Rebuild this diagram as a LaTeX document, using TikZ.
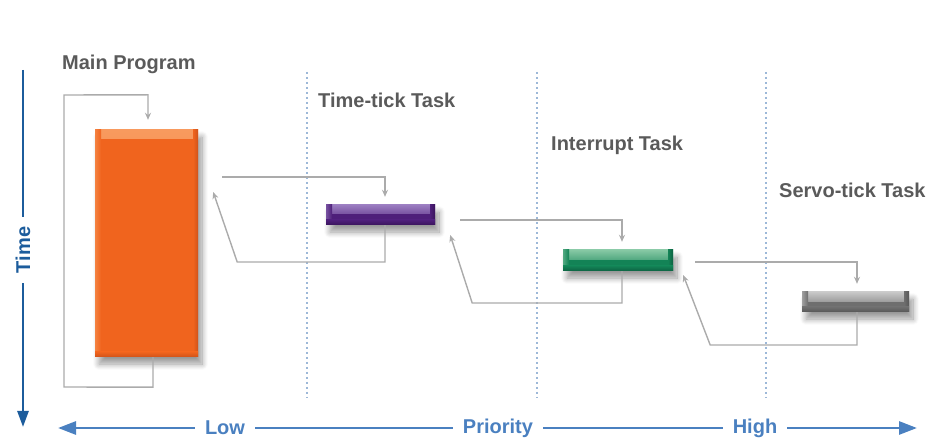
\documentclass[tikz,border=0pt]{standalone}
\usepackage{fontspec}
\setmainfont{Liberation Sans}
\usetikzlibrary{arrows.meta,shadows.blur,calc}

\definecolor{timeblue}{HTML}{1C5C9C}
\definecolor{prioblue}{HTML}{4A80C0}
\definecolor{sepblue}{HTML}{9DB8D8}
\definecolor{conngray}{HTML}{ABABAB}
\definecolor{lblgray}{HTML}{5A5A5A}
\definecolor{orMain}{HTML}{F0641E}
\definecolor{orLight}{HTML}{F89A5E}
\definecolor{orDark}{HTML}{D0531A}
\definecolor{puMain}{HTML}{4E1F7A}
\definecolor{puLight}{HTML}{9A7CC0}
\definecolor{puDark}{HTML}{3A145C}
\definecolor{grMain}{HTML}{138356}
\definecolor{grLight}{HTML}{86C8A4}
\definecolor{grDark}{HTML}{0D6242}
\definecolor{gyMain}{HTML}{6E6E6E}
\definecolor{gyLight}{HTML}{C8C8C8}
\definecolor{gyDark}{HTML}{585858}

\tikzset{
  taskbar/.style n args={4}{
    draw=none, fill=#1, inner sep=0pt,
    blur shadow={shadow xshift=4pt, shadow yshift=-7pt, shadow blur steps=10, shadow blur radius=6pt, shadow opacity=40},
    path picture={
      % raised top edge
      \shade[top color=#2, bottom color=#1] (path picture bounding box.north west) rectangle
        ([yshift=-#4]path picture bounding box.north east);
      % lit left edge
      \shade[left color=#2!55!#1, right color=#1] (path picture bounding box.north west) rectangle
        ([xshift=6pt]path picture bounding box.south west);
      % shaded right edge
      \shade[left color=#1, right color=#3] ([xshift=-5pt]path picture bounding box.north east) rectangle
        (path picture bounding box.south east);
      % shaded bottom edge
      \shade[top color=#1, bottom color=#3] ([yshift=5pt]path picture bounding box.south west) rectangle
        (path picture bounding box.south east);
    }},
  tasklbl/.style={font=\bfseries\fontsize{20}{22}\selectfont, text=lblgray, inner sep=0pt, anchor=west},
  conn/.style={draw=conngray, line width=1.4pt},
  connarrow/.style={conn, -{Stealth[length=7pt,width=6pt]}},
  septr/.style={draw=sepblue, line width=1.6pt, dash pattern=on 2.5pt off 2.5pt},
  axislbl/.style={font=\bfseries\fontsize{20}{22}\selectfont, inner xsep=10pt, inner ysep=0pt},
  timeax/.style={draw=timeblue, line width=2.6pt},
  prioax/.style={draw=prioblue, line width=2.8pt}
}

\begin{document}
\begin{tikzpicture}[x=1pt,y=-1pt]
\useasboundingbox (0,0) rectangle (930,438);

% priority separators
\draw[septr] (307,72) -- (307,398);
\draw[septr] (537,72) -- (537,398);
\draw[septr] (766,72) -- (766,398);

% task bars
\node[taskbar={orMain}{orLight}{orDark}{9pt}, minimum width=103pt, minimum height=227pt] (main) at (146.5,243.5) {};
\node[taskbar={puMain}{puLight}{puDark}{9pt}, minimum width=109pt, minimum height=20pt] (tick) at (380.5,215) {};
\node[taskbar={grMain}{grLight}{grDark}{10pt}, minimum width=110pt, minimum height=21pt] (intr) at (618,260.5) {};
\node[taskbar={gyMain}{gyLight}{gyDark}{10pt}, minimum width=107pt, minimum height=20pt] (servo) at (855.5,302) {};

% task labels
\node[tasklbl] (lmain) at (62,64) {Main Program};
\node[tasklbl] (ltick) at (318,100) {Time-tick Task};
\node[tasklbl] (lintr) at (551,145) {Interrupt Task};
\node[tasklbl] (lservo) at (779,190) {Servo-tick Task};

% main program loop
\draw[connarrow] ($(main.south)+(6.5,0)$) -- ++(0,30) -- (64,387) -- (64,95)
  -- ($(main.north)+(1.5,-35)$) -- ($(main.north)+(1.5,-10)$);

% main -> time-tick and back
\draw[connarrow] ($(main.east)+(24,-66.5)$) -| ($(tick.north)+(4.5,-8)$);
\draw[connarrow] ($(tick.south)+(4.5,0)$) |- ($(main.east)+(39,18.5)$) -- ($(main.east)+(15,-51.5)$);

% time-tick -> interrupt and back
\draw[connarrow] ($(tick.east)+(25,5)$) -| ($(intr.north)+(4,-8)$);
\draw[connarrow] ($(intr.south)+(4,0)$) |- ($(tick.east)+(37,88)$) -- ($(tick.east)+(15,20)$);

% interrupt -> servo-tick and back
\draw[connarrow] ($(intr.east)+(22,1.5)$) -| ($(servo.north)+(1.5,-8)$);
\draw[connarrow] ($(servo.south)+(1.5,0)$) |- ($(intr.east)+(37,84.5)$) -- ($(intr.east)+(10,14.5)$);

% time axis
\node[axislbl, text=timeblue, rotate=90] (time) at (23,250) {Time};
\draw[timeax] (23,70) -- (time.east);
\draw[timeax, -{Triangle[length=16pt,width=11pt]}] (time.west) -- (23,427);

% priority axis
\node[axislbl, text=prioblue] (low) at (225,428) {Low};
\node[axislbl, text=prioblue] (prio) at (498,428) {Priority};
\node[axislbl, text=prioblue] (high) at (755,428) {High};
\coordinate (pleft) at (58,428);
\coordinate (pright) at (917,428);
\draw[prioax, {Triangle[length=18pt,width=13pt]}-] (pleft) -- (low.west);
\draw[prioax] (low.east) -- (prio.west);
\draw[prioax] (prio.east) -- (high.west);
\draw[prioax, -{Triangle[length=18pt,width=13pt]}] (high.east) -- (pright);
\end{tikzpicture}
\end{document}
